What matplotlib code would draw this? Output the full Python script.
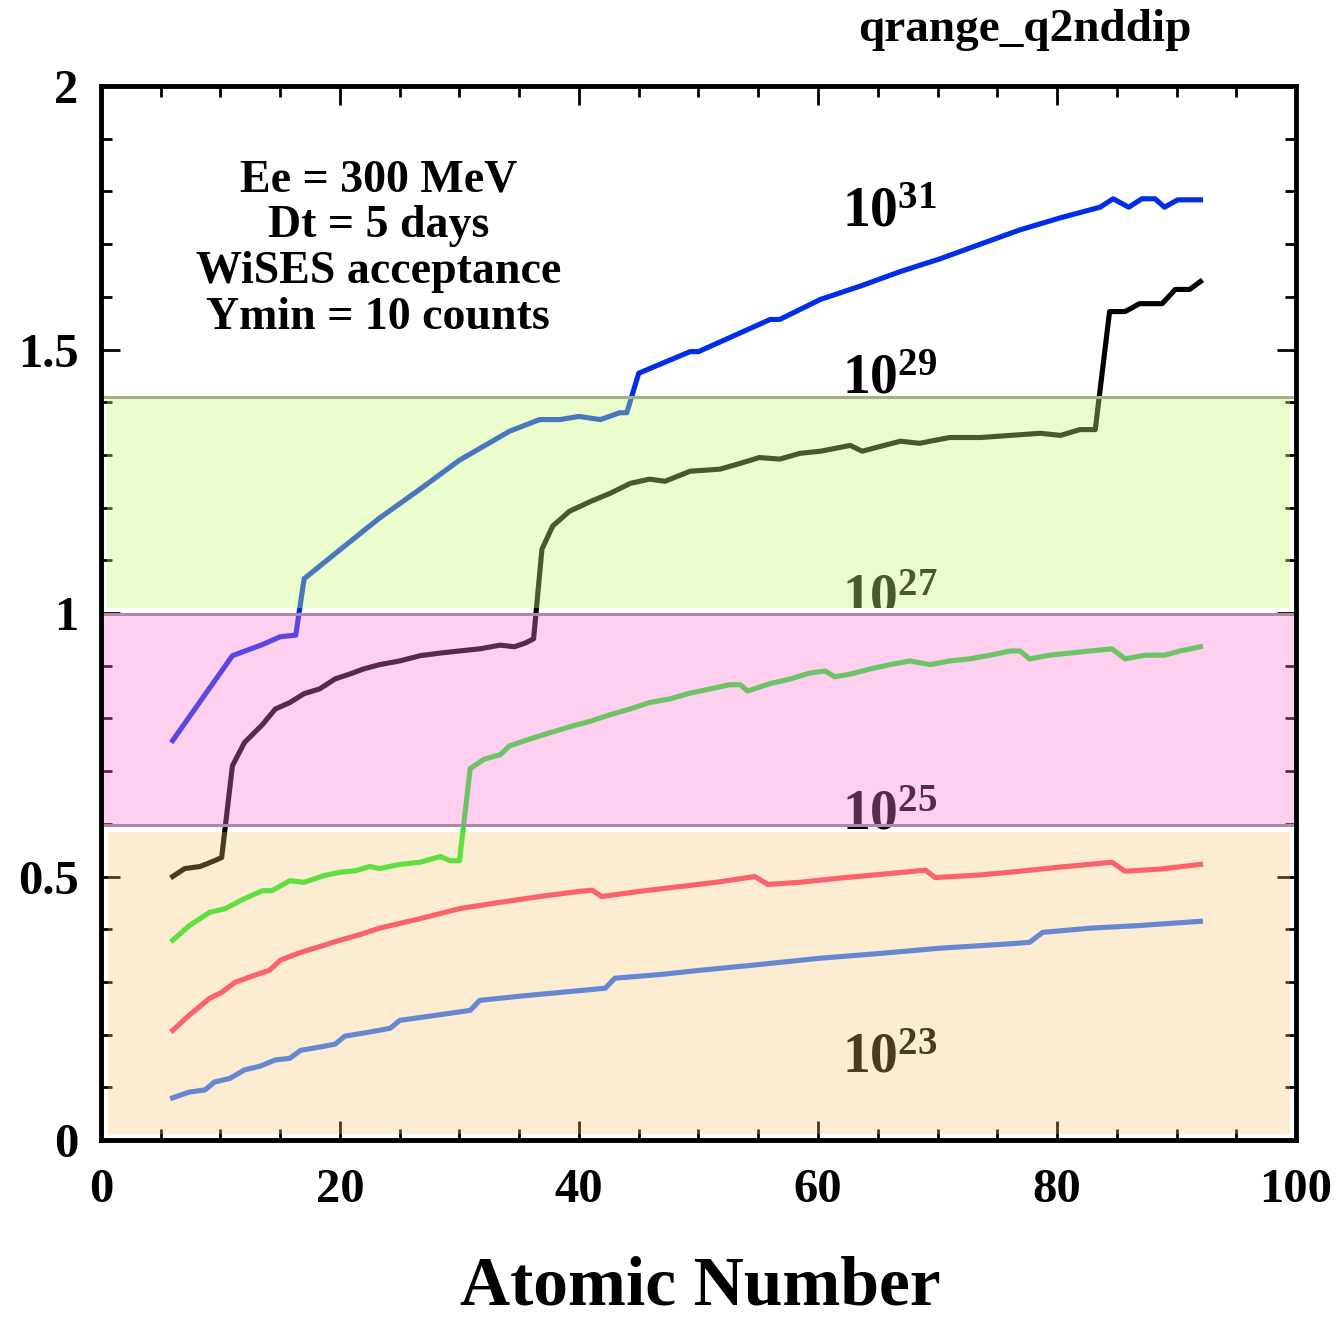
import numpy as np
import matplotlib.pyplot as plt
from matplotlib.ticker import MultipleLocator

plt.rcParams['font.family'] = ['Liberation Serif', 'DejaVu Serif']
plt.rcParams['font.weight'] = 'bold'
plt.rcParams['mathtext.fontset'] = 'custom'
plt.rcParams['mathtext.rm'] = 'Liberation Serif:bold'
plt.rcParams['mathtext.it'] = 'Liberation Serif:bold'
plt.rcParams['mathtext.bf'] = 'Liberation Serif:bold'

# q-range vs Z, vertices of each curve (luminosity 1e31 ... 1e23)
z31 = [6, 11, 13.5, 15, 16.3, 17, 20, 23.3, 26.7, 30, 34.2, 36.7, 38.4, 40, 41.8, 43.4, 44,
       45, 49.3, 50, 56, 56.8, 60.2, 63.5, 66.9, 70.2, 73.6, 76.9, 80.3, 83.6, 84.7, 86,
       87.1, 88.2, 89, 90.1, 92]
q31 = [0.758, 0.919, 0.94, 0.955, 0.958, 1.065, 1.12, 1.18, 1.235, 1.29, 1.345, 1.367, 1.367,
       1.373, 1.367, 1.38, 1.38, 1.455, 1.496, 1.496, 1.557, 1.557, 1.595, 1.62, 1.648, 1.672,
       1.70, 1.727, 1.75, 1.77, 1.786, 1.77, 1.786, 1.786, 1.77, 1.784, 1.784]

z29 = [6, 7, 8.3, 9.5, 10.1, 11, 12, 13.5, 14.6, 15.8, 17, 18.3, 19.6, 20.8, 22, 23.3, 25,
       26.7, 28.4, 30, 31.7, 33.4, 34.6, 35.5, 36.2, 36.9, 37.8, 39.2, 41, 42.6, 44.3, 45.9,
       47.2, 49.3, 51.8, 53.5, 55.1, 56.8, 58.5, 60.2, 62.7, 63.7, 65.2, 66.9, 68.5, 71,
       73.6, 76.1, 78.6, 80.3, 81.9, 83.2, 84.4, 85.7, 86.9, 88.8, 89.9, 91.1, 92]
q29 = [0.50, 0.515, 0.519, 0.53, 0.536, 0.71, 0.754, 0.788, 0.818, 0.83, 0.847, 0.856, 0.875,
       0.884, 0.894, 0.902, 0.909, 0.919, 0.924, 0.928, 0.932, 0.939, 0.936, 0.943, 0.951,
       1.121, 1.165, 1.193, 1.212, 1.227, 1.246, 1.254, 1.25, 1.269, 1.273, 1.284, 1.295,
       1.292, 1.303, 1.307, 1.318, 1.307, 1.316, 1.326, 1.322, 1.333, 1.333, 1.337, 1.341,
       1.337, 1.348, 1.348, 1.572, 1.572, 1.587, 1.587, 1.614, 1.614, 1.629]

z27 = [6, 7.4, 9.1, 10.4, 12, 13.5, 14.3, 15.8, 17, 18.7, 20, 21.3, 22.5, 23.3, 25, 26.7,
       28.4, 29.2, 30, 30.9, 32.1, 33.4, 34.2, 35.9, 37.6, 39.2, 41, 42.6, 44.3, 45.9, 47.6,
       49.3, 51, 52.6, 53.5, 54.1, 56, 57.7, 59.3, 60.6, 61.4, 62.7, 64.4, 66, 67.7, 69.4,
       71, 72.7, 74.4, 76.1, 76.9, 77.7, 79.4, 81.1, 82.8, 84.6, 85.7, 87.4, 89, 90.3, 92]
q27 = [0.379, 0.407, 0.432, 0.439, 0.458, 0.473, 0.473, 0.492, 0.489, 0.502, 0.508, 0.511,
       0.519, 0.515, 0.523, 0.527, 0.538, 0.53, 0.53, 0.705, 0.723, 0.731, 0.748, 0.761,
       0.773, 0.784, 0.795, 0.807, 0.818, 0.83, 0.837, 0.848, 0.856, 0.864, 0.864, 0.852,
       0.866, 0.875, 0.886, 0.89, 0.879, 0.884, 0.894, 0.902, 0.909, 0.902, 0.909, 0.913,
       0.92, 0.928, 0.928, 0.913, 0.92, 0.924, 0.928, 0.932, 0.913, 0.92, 0.92, 0.928, 0.936]

z25 = [6, 7.4, 9.1, 10.1, 11.2, 12.9, 14.1, 15, 16.7, 18.3, 20, 21.7, 23.3, 26.7, 30, 33.4,
       36.7, 40.1, 41.1, 41.9, 45.1, 48.5, 51.8, 54.7, 55.8, 58.5, 61.8, 65.2, 69, 69.8,
       73.6, 76.9, 80.3, 84.6, 85.7, 88.6, 92]
q25 = [0.208, 0.237, 0.269, 0.28, 0.299, 0.313, 0.322, 0.341, 0.356, 0.367, 0.379, 0.39,
       0.402, 0.42, 0.439, 0.451, 0.462, 0.472, 0.474, 0.462, 0.472, 0.481, 0.49, 0.5, 0.485,
       0.489, 0.497, 0.504, 0.512, 0.498, 0.503, 0.51, 0.518, 0.527, 0.51, 0.514, 0.523]

z23 = [6, 7.4, 8.7, 9.5, 10.8, 12, 13.3, 14.6, 15.8, 16.7, 18.7, 19.6, 20.4, 22.5, 24.2, 25,
       27.5, 30.9, 31.7, 35.1, 38.4, 42.2, 43, 46.8, 50.1, 55.1, 60.2, 65.2, 70.2, 75.2,
       77.7, 78.8, 82.8, 86.9, 92]
q23 = [0.08, 0.091, 0.095, 0.11, 0.117, 0.133, 0.14, 0.152, 0.155, 0.17, 0.178, 0.182, 0.197,
       0.205, 0.212, 0.227, 0.235, 0.246, 0.265, 0.273, 0.28, 0.288, 0.307, 0.314, 0.322,
       0.333, 0.345, 0.354, 0.364, 0.371, 0.375, 0.394, 0.402, 0.407, 0.415]

curves = [(z31, q31, '#002ee8'), (z29, q29, 'black'), (z27, q27, '#20ee2e'),
          (z25, q25, '#ff3870'), (z23, q23, '#2870ff')]
exponents = ['31', '29', '27', '25', '23']
label_y = [1.733, 1.417, 1.0, 0.59, 0.129]

fig = plt.figure(figsize=(13.39, 13.19), dpi=100)
ax = fig.add_axes([0.0754, 0.1357, 0.8925, 0.7991])

for z, q, c in curves:
    ax.plot(z, q, color=c, lw=3.7, zorder=2)

for e, y in zip(exponents, label_y):
    ax.text(62, y, '$10^{' + e + '}$', fontsize=40, ha='left', va='baseline', zorder=1)

# translucent bands over the curves
ax.axhspan(0.012, 0.585, xmin=0.006, xmax=0.995, color=(247/255, 193/255, 107/255),
           alpha=0.30, lw=0, zorder=3)
ax.axhspan(0.597, 0.999, color=(1.0, 120/255, 210/255), alpha=0.35, lw=0, zorder=3)
ax.axhspan(1.010, 1.410, xmin=0.005, xmax=0.995, color=(205/255, 250/255, 117/255),
           alpha=0.36, lw=0, zorder=3)
ax.axhspan(0.999, 1.010, color='white', lw=0, zorder=1.5)
ax.axhline(0.597, color='#b088a8', lw=2.2, zorder=4)
ax.axhline(0.999, color='#b088a8', lw=2.2, zorder=4)
ax.axhline(1.410, color='#a2b282', lw=2.2, zorder=4)

ax.text(23.2, 1.69, 'Ee = 300 MeV\nDt = 5 days\nWiSES acceptance\nYmin = 10 counts',
        fontsize=33, ha='center', va='center', linespacing=1.12, zorder=5)

ax.set_xlim(0, 100)
ax.set_ylim(0, 2)
ax.xaxis.set_minor_locator(MultipleLocator(5))
ax.yaxis.set_minor_locator(MultipleLocator(0.1))
ax.set_xticks([0, 20, 40, 60, 80, 100], ['0', '20', '40', '60', '80', '100'])
ax.set_yticks([0, 0.5, 1, 1.5, 2], ['0', '0.5', '1', '1.5', '2'])
ax.tick_params(which='both', direction='in', top=True, right=True, width=2, labelsize=35)
ax.tick_params(axis='x', which='major', length=14, pad=20)
ax.tick_params(axis='y', which='major', length=14, pad=16)
ax.tick_params(which='minor', length=8)
for s in ax.spines.values():
    s.set_linewidth(3.5)
    s.set_zorder(6)

fig.text(0.523, 0.024, 'Atomic Number', fontsize=50, ha='center', va='center')
fig.text(0.7655, 0.977, 'qrange_q2nddip', fontsize=34, ha='center', va='center')

fig.savefig('out.png', dpi=100)
